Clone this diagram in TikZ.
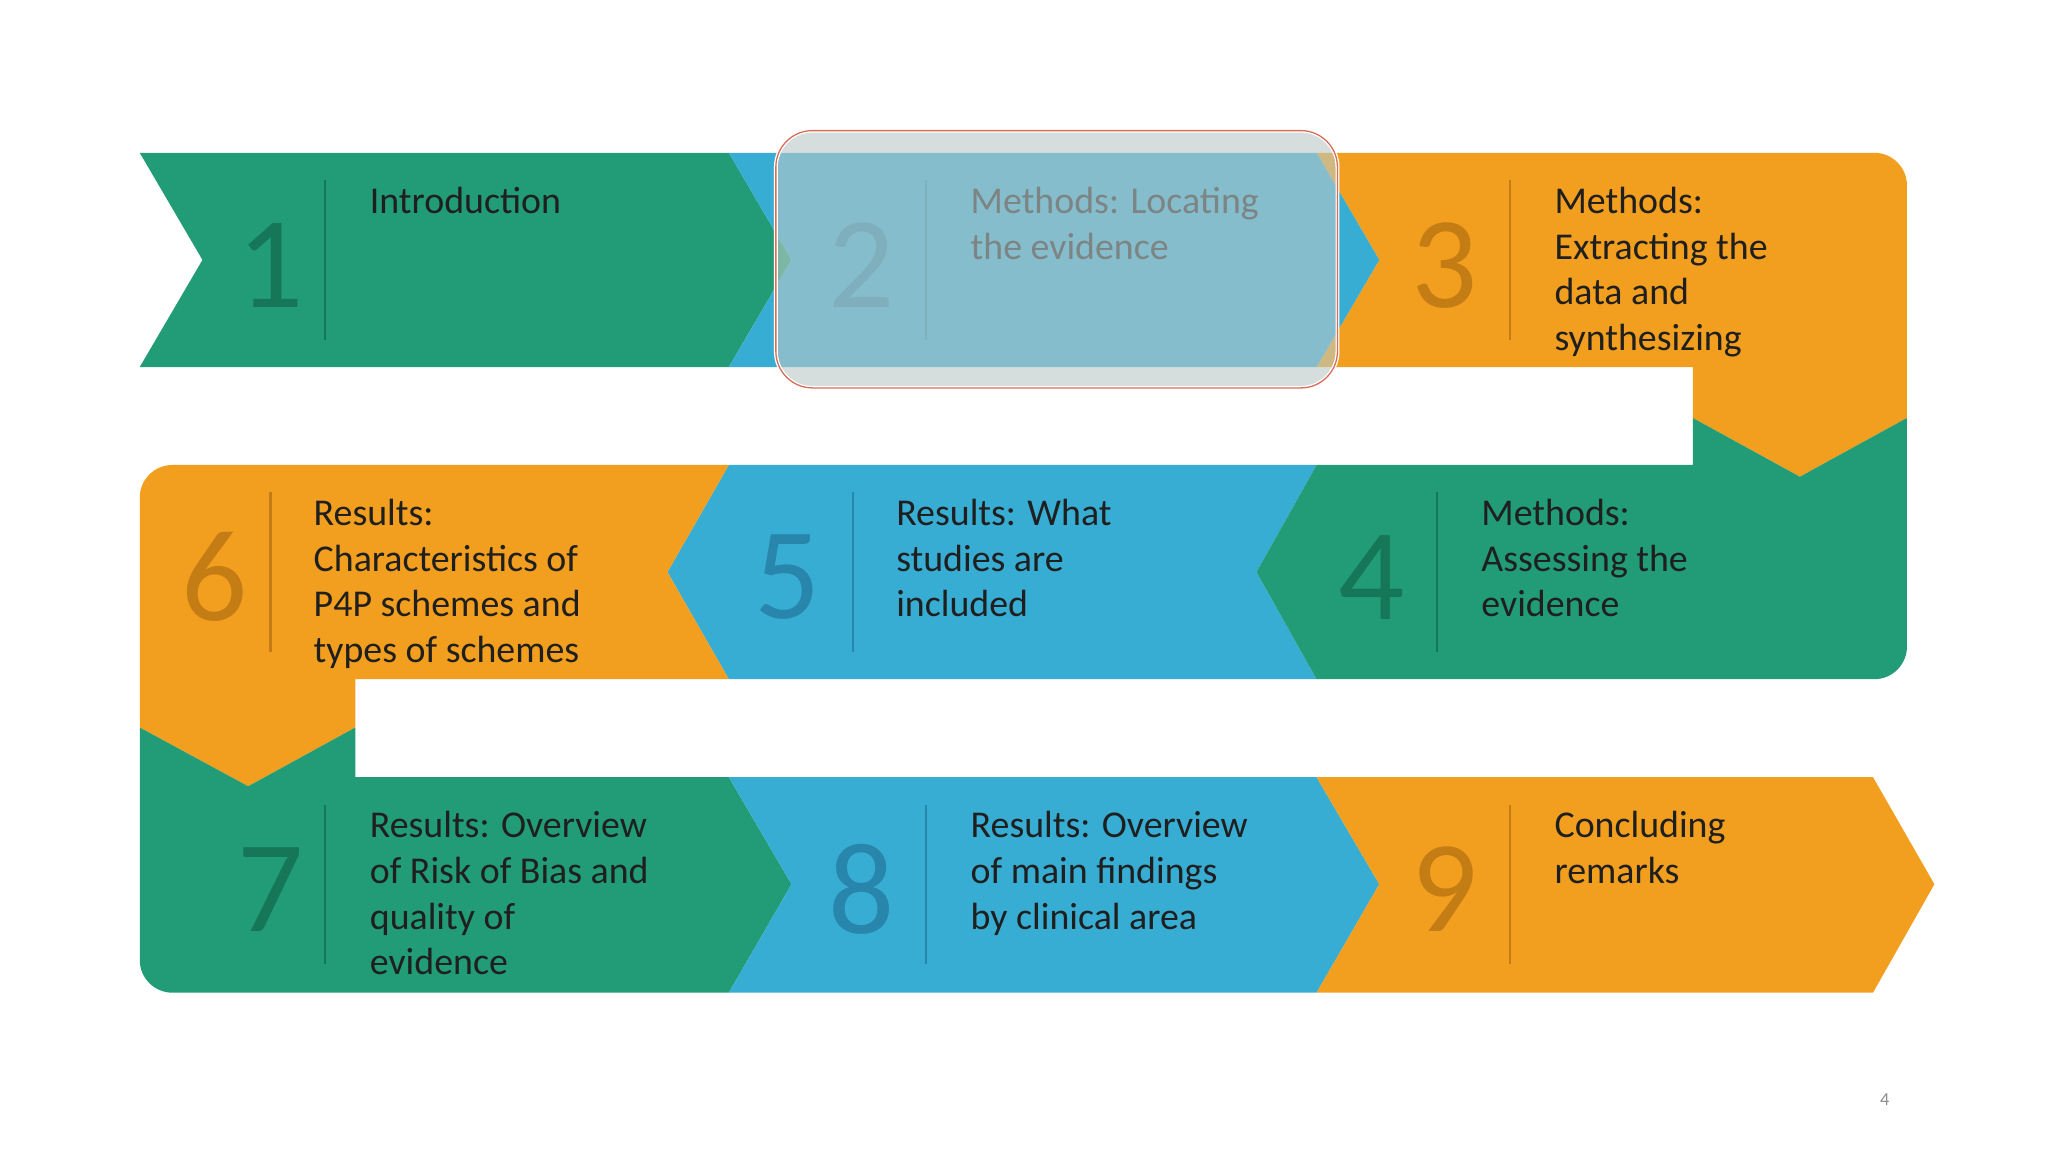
\documentclass[tikz,border=0pt]{standalone}
\usepackage{fontspec}
\setmainfont{Carlito}
\begin{document}
\definecolor{gr}{RGB}{33,156,118}
\definecolor{bl}{RGB}{56,173,212}
\definecolor{or}{RGB}{242,159,31}
\definecolor{grd}{RGB}{22,118,88}
\definecolor{bld}{RGB}{40,134,172}
\definecolor{ord}{RGB}{196,124,20}
\begin{tikzpicture}[x=1pt,y=-1pt,
  num/.style={font=\fontsize{100}{100}\selectfont,anchor=center},
  txt/.style={anchor=north west,align=left,text=black!88,inner sep=0pt,font=\fontsize{29}{35}\selectfont},
  dv/.style={line width=1.8pt}]
\useasboundingbox[fill=white] (0,0) rectangle (1568,882);
% row 1
\fill[gr] (107,117)--(558,117)--(606,199)--(558,281)--(107,281)--(155,199)--cycle;
\fill[or] (1008,117)[rounded corners=25]--(1460,117)[sharp corners]--(1460,320)--(1378,365)--(1296,320)--(1296,281)--(1008,281)--(1056,199)--cycle;
\fill[bl] (558,117)--(1008,117)--(1056,199)--(1008,281)--(558,281)--(606,199)--cycle;
% row 2
\fill[bl] (558,356)--(1008,356)--(962,438)--(1008,520)--(558,520)--(511,438)--cycle;
\fill[gr] (1008,356)--(1296,356)--(1296,320)--(1378,365)--(1460,320)[rounded corners=25]--(1460,520)[sharp corners]--(1008,520)--(962,438)--cycle;
\fill[or] (558,356)--(511,438)--(558,520)--(272,520)--(272,557)--(190,602)--(107,557)[rounded corners=25]--(107,356)[sharp corners]--cycle;
% row 3
\fill[gr] (107,557)--(190,602)--(272,557)--(272,595)--(558,595)--(606,677)--(558,760)[rounded corners=25]--(107,760)[sharp corners]--cycle;
\fill[bl] (558,595)--(1008,595)--(1056,677)--(1008,760)--(558,760)--(606,677)--cycle;
\fill[or] (1008,595)--(1434,595)--(1481,677)--(1434,760)--(1008,760)--(1056,677)--cycle;
% numbers, dividers, texts
\node[num,text=grd] (n1) at (207,203) {1};
\draw[dv,grd] (249,138)--(249,260);
\node[txt] (t1) at (283,143) {Introduction};
\node[num,text=bld] (n2) at (660,203) {2};
\draw[dv,bld] (709,138)--(709,260);
\node[txt] (t2) at (743,143) {Methods: Locating\\the evidence};
\node[num,text=ord] (n3) at (1106,203) {3};
\draw[dv,ord] (1156,138)--(1156,260);
\node[txt] (t3) at (1190,143) {Methods:\\Extracting the\\data and\\synthesizing};
\node[num,text=ord] (n6) at (164,442) {6};
\draw[dv,ord] (207,377)--(207,499);
\node[txt] (t6) at (240,382) {Results:\\Characteristics of\\P4P schemes and\\types of schemes};
\node[num,text=bld] (n5) at (603,442) {5};
\draw[dv,bld] (653,377)--(653,499);
\node[txt] (t5) at (686,382) {Results: What\\studies are\\included};
\node[num,text=grd] (n4) at (1050,442) {4};
\draw[dv,grd] (1100,377)--(1100,499);
\node[txt] (t4) at (1134,382) {Methods:\\Assessing the\\evidence};
\node[num,text=grd] (n7) at (207,681) {7};
\draw[dv,grd] (249,616)--(249,738);
\node[txt] (t7) at (283,621) {Results: Overview\\of Risk of Bias and\\quality of\\evidence};
\node[num,text=bld] (n8) at (660,681) {8};
\draw[dv,bld] (709,616)--(709,738);
\node[txt] (t8) at (743,621) {Results: Overview\\of main findings\\by clinical area};
\node[num,text=ord] (n9) at (1106,681) {9};
\draw[dv,ord] (1156,616)--(1156,738);
\node[txt] (t9) at (1190,621) {Concluding\\remarks};
% highlight overlay
\draw[draw=white,line width=3pt,fill={rgb,255:red,186;green,201;blue,199},fill opacity=0.6,rounded corners=28] (594,100) rectangle (1024,297);
\draw[draw={rgb,255:red,214;green,110;blue,90},line width=1pt,rounded corners=28] (594,100) rectangle (1024,297);
\node[text=black!45,font=\fontsize{14}{14}\selectfont] (pg) at (1443,842) {4};
\end{tikzpicture}
\end{document}
